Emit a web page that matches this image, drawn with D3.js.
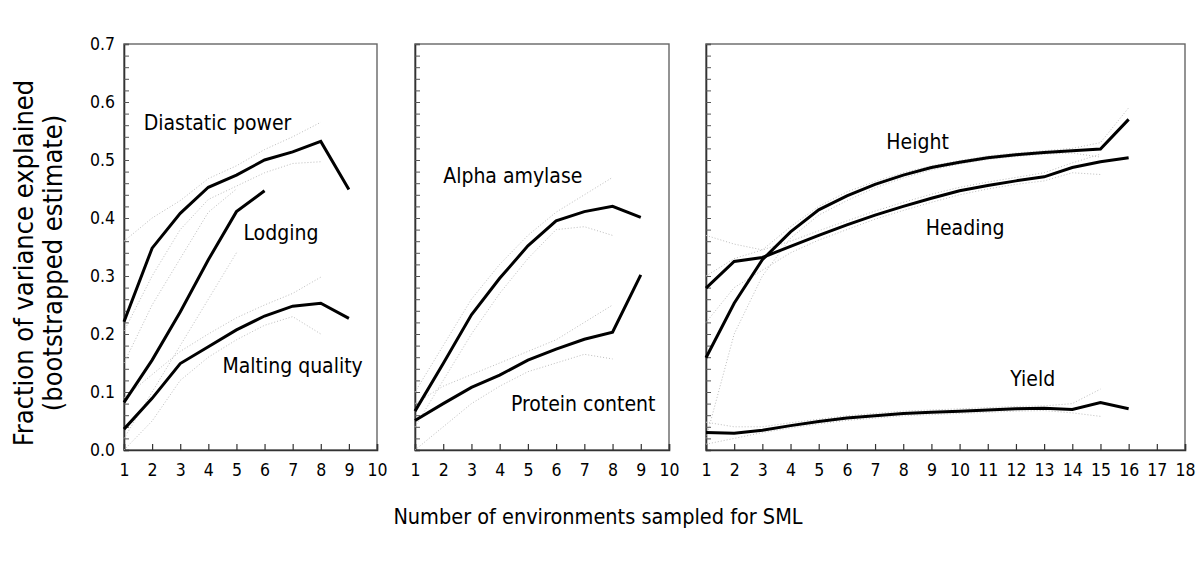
<!DOCTYPE html>
<html>
<head>
<meta charset="utf-8">
<script src="https://cdn.jsdelivr.net/npm/d3@7"></script>
<style>
  html, body { margin: 0; padding: 0; background: #fff; }
  svg { display: block; font-family: "DejaVu Sans Condensed", "DejaVu Sans", sans-serif; font-stretch: condensed; }
</style>
</head>
<body>
<svg id="chart" width="1200" height="567"></svg>
<script>
// Fraction of variance explained vs number of environments (three panels)

// --- Data ---
const yTicks = [0.0, 0.1, 0.2, 0.3, 0.4, 0.5, 0.6, 0.7];

// Panel 1
const diastatic      = [0.221, 0.348, 0.408, 0.453, 0.474, 0.500, 0.514, 0.532, 0.449];
const diastaticUpper = [0.360, 0.400, 0.430, 0.468, 0.490, 0.518, 0.540, 0.565];
const diastaticLower = [0.205, 0.300, 0.380, 0.432, 0.455, 0.478, 0.494, 0.497];
const lodging        = [0.082, 0.155, 0.238, 0.328, 0.411, 0.447];
const lodgingUpper   = [0.150, 0.250, 0.330, 0.410, 0.450];
const lodgingLower   = [0.020, 0.100, 0.180, 0.260, 0.340];
const malting        = [0.036, 0.089, 0.149, 0.178, 0.207, 0.231, 0.248, 0.253, 0.227];
const maltingUpper   = [0.090, 0.130, 0.170, 0.200, 0.228, 0.250, 0.270, 0.298];
const maltingLower   = [0.000, 0.050, 0.120, 0.160, 0.190, 0.215, 0.230, 0.200];

// Panel 2
const alpha          = [0.067, 0.149, 0.233, 0.296, 0.352, 0.395, 0.411, 0.420, 0.401];
const alphaUpper     = [0.100, 0.180, 0.260, 0.320, 0.370, 0.410, 0.440, 0.470];
const alphaLower     = [0.040, 0.120, 0.200, 0.270, 0.330, 0.380, 0.385, 0.370];
const protein        = [0.051, 0.080, 0.108, 0.129, 0.155, 0.174, 0.191, 0.203, 0.302];
const proteinUpper   = [0.080, 0.110, 0.130, 0.150, 0.170, 0.190, 0.220, 0.250];
const proteinLower   = [0.000, 0.040, 0.080, 0.110, 0.135, 0.150, 0.165, 0.157];

// Panel 3
const heightVals     = [0.159, 0.253, 0.328, 0.376, 0.414, 0.438, 0.458, 0.474, 0.487, 0.496, 0.504, 0.509, 0.513, 0.516, 0.519, 0.570];
const heightUpper    = [0.300, 0.330, 0.345, 0.385, 0.420, 0.445, 0.463, 0.478, 0.490, 0.499, 0.507, 0.512, 0.516, 0.520, 0.530, 0.590];
const heightLower    = [0.020, 0.200, 0.300, 0.365, 0.405, 0.430, 0.452, 0.469, 0.483, 0.493, 0.501, 0.506, 0.510, 0.512, 0.505];
const heading        = [0.279, 0.325, 0.332, 0.351, 0.370, 0.388, 0.405, 0.420, 0.434, 0.447, 0.456, 0.464, 0.471, 0.487, 0.497, 0.504];
const headingUpper   = [0.370, 0.355, 0.345, 0.360, 0.378, 0.395, 0.412, 0.427, 0.441, 0.453, 0.462, 0.470, 0.478, 0.495, 0.510];
const headingLower   = [0.220, 0.280, 0.310, 0.340, 0.362, 0.380, 0.398, 0.413, 0.427, 0.440, 0.450, 0.458, 0.464, 0.478, 0.475];
const yieldVals      = [0.030, 0.029, 0.034, 0.042, 0.049, 0.055, 0.059, 0.063, 0.065, 0.067, 0.069, 0.071, 0.072, 0.070, 0.082, 0.071];
const yieldUpper     = [0.048, 0.040, 0.040, 0.047, 0.053, 0.059, 0.063, 0.067, 0.069, 0.071, 0.073, 0.075, 0.076, 0.080, 0.105];
const yieldLower     = [0.010, 0.020, 0.030, 0.038, 0.045, 0.051, 0.055, 0.059, 0.061, 0.063, 0.065, 0.067, 0.068, 0.064, 0.058];

const panels = [
  { xMax: 10, left: 124, right: 377, labelY: true,
    series: [
      { main: diastatic, upper: diastaticUpper, lower: diastaticLower },
      { main: lodging, upper: lodgingUpper, lower: lodgingLower },
      { main: malting, upper: maltingUpper, lower: maltingLower }
    ],
    notes: [
      { text: 'Diastatic power', x: 1.7, y: 0.552 },
      { text: 'Lodging',         x: 5.25, y: 0.362 },
      { text: 'Malting quality', x: 4.5, y: 0.133 }
    ] },
  { xMax: 10, left: 415, right: 669, labelY: false,
    series: [
      { main: alpha, upper: alphaUpper, lower: alphaLower },
      { main: protein, upper: proteinUpper, lower: proteinLower }
    ],
    notes: [
      { text: 'Alpha amylase',   x: 2.0, y: 0.46 },
      { text: 'Protein content', x: 4.4, y: 0.067 }
    ] },
  { xMax: 18, left: 706, right: 1185, labelY: false,
    series: [
      { main: heightVals, upper: heightUpper, lower: heightLower },
      { main: heading, upper: headingUpper, lower: headingLower },
      { main: yieldVals, upper: yieldUpper, lower: yieldLower }
    ],
    notes: [
      { text: 'Height',  x: 7.4, y: 0.519 },
      { text: 'Heading', x: 8.8, y: 0.371 },
      { text: 'Yield',   x: 11.8, y: 0.110 }
    ] }
];

// --- Layout ---
const plotTop = 44, plotBottom = 450;
const svg = d3.select('#chart');
const y = d3.scaleLinear().domain([0, 0.7]).range([plotBottom, plotTop]);
const minorY = d3.range(0, 36).map(i => i * 0.02);
const tickFont = '"DejaVu Sans Condensed", "DejaVu Sans", sans-serif';

panels.forEach(p => {
  const x = d3.scaleLinear().domain([1, p.xMax]).range([p.left, p.right]);
  const g = svg.append('g');

  // frame
  g.append('rect')
    .attr('x', p.left).attr('y', plotTop)
    .attr('width', p.right - p.left).attr('height', plotBottom - plotTop)
    .attr('fill', 'none').attr('stroke', '#666').attr('stroke-width', 1.4);

  // inward y ticks
  const ya = g.append('g').attr('transform', `translate(${p.left},0)`)
    .call(d3.axisLeft(y).tickValues(minorY).tickSize(-5).tickFormat(''));
  ya.select('.domain').attr('stroke', '#333').attr('stroke-width', 1.6);
  ya.selectAll('.tick line').attr('stroke', '#555');

  // inward x ticks + labels
  const xa = g.append('g').attr('transform', `translate(0,${plotBottom})`)
    .call(d3.axisBottom(x).tickValues(d3.range(1, p.xMax + 1)).tickSize(-6).tickPadding(14).tickFormat(d3.format('d')));
  xa.select('.domain').attr('stroke', '#333').attr('stroke-width', 1.6);
  xa.selectAll('.tick line').attr('stroke', '#333').attr('stroke-width', 1.2);
  xa.selectAll('.tick text').attr('font-size', 17.5).attr('fill', '#000')
    .attr('font-family', tickFont);

  if (p.labelY) {
    const yl = g.append('g').attr('transform', `translate(${p.left},0)`)
      .call(d3.axisLeft(y).tickValues(yTicks).tickSize(0).tickPadding(9).tickFormat(d3.format('.1f')));
    yl.select('.domain').remove();
    yl.selectAll('.tick text').attr('font-size', 17.5).attr('fill', '#000')
      .attr('font-family', tickFont);
  }

  const line = d3.line().x((d, i) => x(i + 1)).y(d => y(d));

  p.series.forEach(s => {
    [s.upper, s.lower].forEach(b => {
      g.append('path').attr('d', line(b))
        .attr('fill', 'none').attr('stroke', '#bdbdbd')
        .attr('stroke-width', 1).attr('stroke-dasharray', '1,2');
    });
  });
  p.series.forEach(s => {
    g.append('path').attr('d', line(s.main))
      .attr('fill', 'none').attr('stroke', '#000')
      .attr('stroke-width', 3).attr('stroke-linejoin', 'miter');
  });

  g.selectAll('text.note').data(p.notes).enter().append('text')
    .attr('class', 'note')
    .attr('x', d => x(d.x)).attr('y', d => y(d.y))
    .attr('font-size', 21).attr('fill', '#000')
    .text(d => d.text);
});

// axis titles
svg.append('text')
  .attr('x', 598).attr('y', 524).attr('text-anchor', 'middle')
  .attr('font-size', 21.5).text('Number of environments sampled for SML');

svg.append('text')
  .attr('transform', 'translate(33,263) rotate(-90)').attr('text-anchor', 'middle')
  .attr('font-size', 27).text('Fraction of variance explained');
svg.append('text')
  .attr('transform', 'translate(62,263) rotate(-90)').attr('text-anchor', 'middle')
  .attr('font-size', 27).text('(bootstrapped estimate)');
</script>
</body>
</html>
